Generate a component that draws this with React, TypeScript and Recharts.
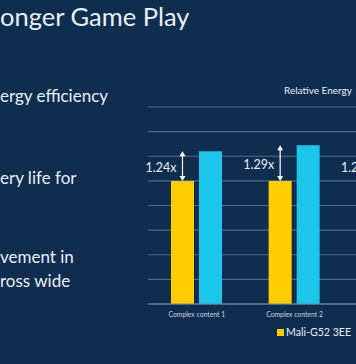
import React from 'react'
import { BarChart, Bar, XAxis, YAxis, CartesianGrid, LabelList } from 'recharts'

const CATEGORIES = ['Complex content 1', 'Complex content 2', 'Complex content 3']
const G52_3EE = [1, 1, 1]
const G57_3EE = [1.24, 1.29, 1.25]
const Y_TICKS = [0, 0.2, 0.4, 0.6, 0.8, 1.0, 1.2, 1.4, 1.6]

const SERIES_NAMES = ['Mali-G52 3EE', 'Mali-G57 3EE']

const data = CATEGORIES.map((name, i) => ({
  name,
  g52: G52_3EE[i],
  g57: G57_3EE[i],
}))

const BG = '#0f2d4e'
const TEXT = '#e9eff6'
const YELLOW = '#ffcc00'
const CYAN = '#1cc6ea'
const FONT = 'Lato'

// arrow + "1.24x" label drawn from the yellow bar up to the cyan bar top
function GainLabel(props: any) {
  const { x, y, width, height, index } = props
  const ratio = G57_3EE[index]
  const cx = x + width / 2
  const top = y - height * (ratio - 1)
  const head = 4
  return (
    <g>
      <line x1={cx} x2={cx} y1={top + head} y2={y - head} stroke="#ffffff" strokeWidth={1.2} />
      <path d={`M${cx - 3},${top + head + 1} L${cx},${top} L${cx + 3},${top + head + 1} Z`} fill="#ffffff" />
      <path d={`M${cx - 3},${y - head - 1} L${cx},${y} L${cx + 3},${y - head - 1} Z`} fill="#ffffff" />
      <text
        x={cx - 6}
        y={(top + y) / 2 + 3}
        textAnchor="end"
        dominantBaseline="middle"
        fill={TEXT}
        fontSize={12.5}
        fontFamily={FONT}
      >
        {`${ratio.toFixed(2)}x`}
      </text>
    </g>
  )
}

export default function App() {
  const txt = { position: 'absolute' as const, color: TEXT, fontFamily: FONT, whiteSpace: 'nowrap' as const }
  return (
    <div style={{ position: 'absolute', left: 0, top: 0, width: 356, height: 364, overflow: 'hidden', background: BG }}>
      <div style={{ ...txt, left: 0, top: 1, fontSize: 25.5 }}>onger Game Play</div>
      <div style={{ ...txt, left: 0, top: 85, fontSize: 17 }}>ergy efficiency</div>
      <div style={{ ...txt, left: 0, top: 167, fontSize: 17 }}>ery life for</div>
      <div style={{ ...txt, left: 0, top: 245, fontSize: 17, lineHeight: '24px' }}>
        vement in
        <br />
        ross wide
      </div>
      <div style={{ ...txt, left: 284, top: 84, fontSize: 10 }}>Relative Energy</div>

      <div style={{ position: 'absolute', left: 0, top: 0 }}>
        <BarChart
          width={441}
          height={364}
          data={data}
          margin={{ top: 107, right: 0, bottom: 40, left: 148 }}
          barSize={23}
          barGap={5}
        >
          <CartesianGrid vertical={false} stroke="#506b89" strokeWidth={1.2} />
          <YAxis hide domain={[0, 1.6]} ticks={Y_TICKS} interval={0} />
          <XAxis
            dataKey="name"
            height={20}
            interval={0}
            tickLine={false}
            axisLine={{ stroke: '#7089a5', strokeWidth: 1.2 }}
            tick={{ fill: '#c8d4e2', fontSize: 6.8, fontFamily: FONT }}
          />
          <Bar dataKey="g52" name={SERIES_NAMES[0]} fill={YELLOW} isAnimationActive={false}>
            <LabelList dataKey="g52" content={GainLabel} />
          </Bar>
          <Bar dataKey="g57" name={SERIES_NAMES[1]} fill={CYAN} isAnimationActive={false} />
        </BarChart>
      </div>

      <div style={{ ...txt, left: 277, top: 326, fontSize: 10.6, display: 'flex', alignItems: 'center' }}>
        <span style={{ width: 7, height: 7, background: YELLOW, marginRight: 2, display: 'inline-block' }} />
        {SERIES_NAMES[0]}
      </div>
    </div>
  )
}
